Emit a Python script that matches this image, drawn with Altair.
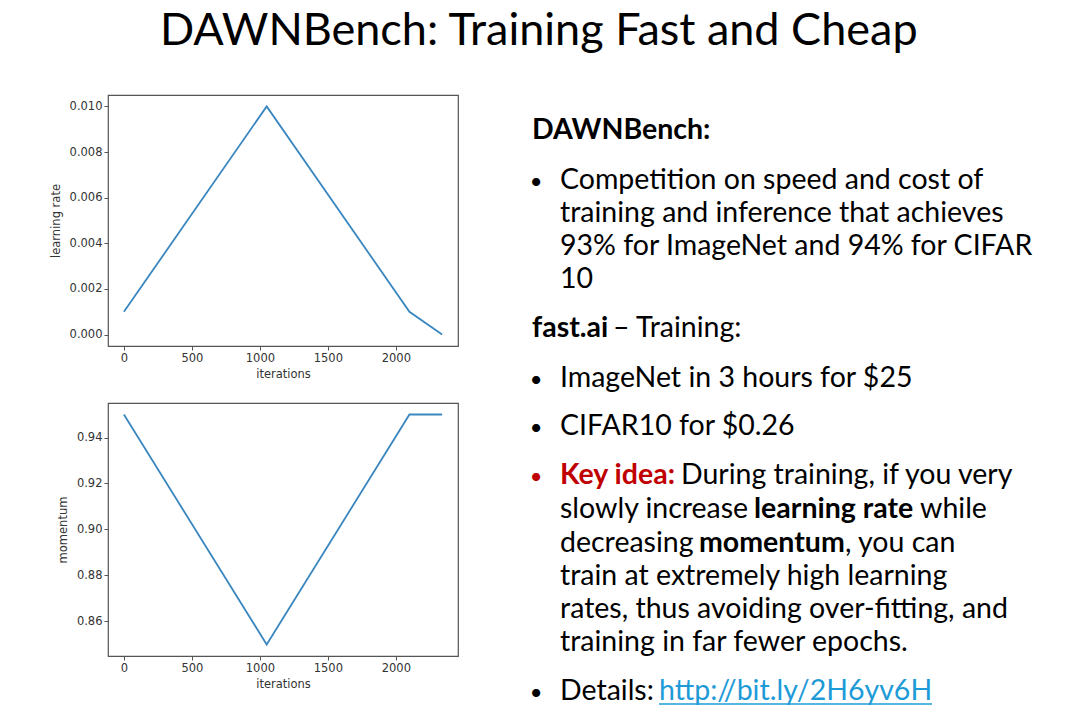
import altair as alt
import pandas as pd

# ---------------- data ----------------
iterations = [0, 1050, 2100, 2340]
learning_rate = [0.001, 0.010, 0.001, 0.0]
momentum = [0.95, 0.85, 0.95, 0.95]

x_ticks = [0, 500, 1000, 1500, 2000]
lr_ticks = [0.0, 0.002, 0.004, 0.006, 0.008, 0.010]
mom_ticks = [0.86, 0.88, 0.90, 0.92, 0.94]

title_text = "DAWNBench: Training Fast and Cheap"

# slide text: each line is a list of (text, style)
text_lines = [
    [("DAWNBench:", "bold")],
    [("•", "bullet"), ("Competition on speed and cost of", "normal")],
    [("training and inference that achieves", "normal")],
    [("93% for ImageNet and 94% for CIFAR", "normal")],
    [("10", "normal")],
    [("fast.ai", "bold"), ("– Training:", "normal")],
    [("•", "bullet"), ("ImageNet in 3 hours for $25", "normal")],
    [("•", "bullet"), ("CIFAR10 for $0.26", "normal")],
    [("•", "redbullet"), ("Key idea:", "red"), ("During training, if you very", "normal")],
    [("slowly increase", "normal"), ("learning rate", "bold"), ("while", "normal")],
    [("decreasing", "normal"), ("momentum", "bold"), (", you can", "normal")],
    [("train at extremely high learning", "normal")],
    [("rates, thus avoiding over-fitting, and", "normal")],
    [("training in far fewer epochs.", "normal")],
    [("•", "bullet"), ("Details:", "normal"), ("http://bit.ly/2H6yv6H", "link")],
]

# ---------------- layout (pixels inside the text panel) ----------------
line_y = [44, 94, 127, 160, 193, 242, 292, 340, 389, 423, 457, 490, 523, 556, 605]
seg_x = [[0], [4, 28], [28], [28], [28], [0, 81], [4, 28], [4, 28], [4, 28, 149],
         [28, 222, 388], [28, 167, 313], [28], [28], [28], [4, 28, 127]]
link_underline = (127, 400, 609)
PW, PH = 494, 612
BODY_SIZE = 28.5
BULLET_SIZE = 22
FONT = "Lato"
LINE_COLOR = "#3a87c0"
FRAME = "#555555"
RED = "#C00000"
LINK = "#1E9BD7"

rows = []
for segs, y, xs in zip(text_lines, line_y, seg_x):
    for (t, st), x in zip(segs, xs):
        rows.append({"text": t, "style": st, "px": x, "py": y})
seg_df = pd.DataFrame(rows)

xs_ = alt.Scale(domain=[0, PW], nice=False, zero=False)
ys_ = alt.Scale(domain=[PH, 0], nice=False, zero=False)


def text_layer(styles, weight, color, align="left", size=BODY_SIZE):
    return alt.Chart(seg_df).transform_filter(
        alt.FieldOneOfPredicate(field="style", oneOf=styles)
    ).mark_text(
        font=FONT, fontSize=size, fontWeight=weight, color=color,
        align=align, baseline="alphabetic"
    ).encode(
        x=alt.X("px:Q", scale=xs_, axis=None),
        y=alt.Y("py:Q", scale=ys_, axis=None),
        text="text:N",
    )


underline = alt.Chart(pd.DataFrame([{"a": link_underline[0], "b": link_underline[1], "c": link_underline[2]}])).mark_rule(
    color=LINK, strokeWidth=1.5
).encode(
    x=alt.X("a:Q", scale=xs_, axis=None),
    x2="b:Q",
    y=alt.Y("c:Q", scale=ys_, axis=None),
)

panel = alt.layer(
    text_layer(["normal"], "normal", "black"),
    text_layer(["bold"], "bold", "black"),
    text_layer(["red"], "bold", RED),
    text_layer(["link"], "normal", LINK),
    text_layer(["bullet"], "normal", "black", align="center", size=BULLET_SIZE),
    text_layer(["redbullet"], "normal", RED, align="center", size=BULLET_SIZE),
    underline,
).properties(width=PW, height=PH, view=alt.ViewBackground(stroke="transparent"))

df = pd.DataFrame({"iterations": iterations, "lr": learning_rate, "mom": momentum})

axis_common = dict(
    labelFont="DejaVu Sans", titleFont="DejaVu Sans", labelFontSize=11.5, titleFontSize=11.5,
    labelColor="#333333", titleColor="#333333", titleFontWeight="normal",
    tickColor=FRAME, tickSize=4, labelPadding=2, grid=False, domain=False,
)

x_enc = alt.X(
    "iterations:Q",
    scale=alt.Scale(domain=[-117, 2457], nice=False, zero=False),
    axis=alt.Axis(values=x_ticks, title="iterations", format="d", titlePadding=5, **axis_common),
)

p1 = alt.Chart(df).mark_line(color=LINE_COLOR, strokeWidth=1.8).encode(
    x=x_enc,
    y=alt.Y("lr:Q", scale=alt.Scale(domain=[-0.0005, 0.0105], nice=False, zero=False),
            axis=alt.Axis(values=lr_ticks, format=".3f", title="learning rate", titlePadding=8, **axis_common)),
).properties(width=350, height=251)

p2 = alt.Chart(df).mark_line(color=LINE_COLOR, strokeWidth=1.8).encode(
    x=x_enc,
    y=alt.Y("mom:Q", scale=alt.Scale(domain=[0.845, 0.955], nice=False, zero=False),
            axis=alt.Axis(values=mom_ticks, format=".2f", title="momentum", titlePadding=8, **axis_common)),
).properties(width=350, height=253)

left = alt.vconcat(p1, p2, spacing=57, bounds="flush")

chart = alt.hconcat(left, panel, spacing=70).properties(
    title=alt.TitleParams(title_text, font=FONT, fontSize=45, fontWeight="normal",
                          color="black", anchor="middle", offset=40, dx=-3),
    padding={"left": 41, "top": 1, "right": 0, "bottom": 0},
    background="white",
).configure_view(stroke=FRAME, strokeWidth=1.2)

chart.save("out.html", embed_options={"renderer": "svg", "actions": False})
